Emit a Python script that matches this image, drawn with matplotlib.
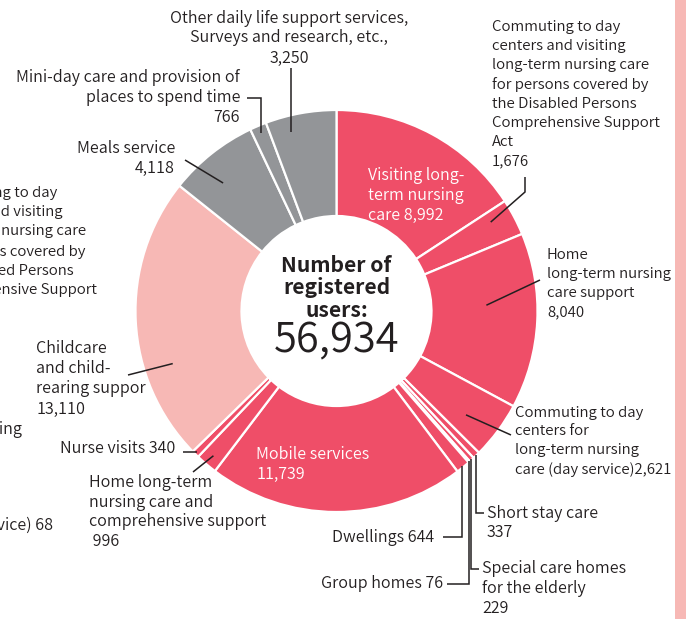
import matplotlib
matplotlib.use('Agg')
import matplotlib.pyplot as plt
from matplotlib.patches import Rectangle
import numpy as np

plt.rcParams['font.family'] = ['Noto Sans CJK JP', 'DejaVu Sans']

# ---------------- data ----------------
categories = [
    "Visiting long-term nursing care",
    "Commuting to day centers and visiting long-term nursing care for persons covered by the Disabled Persons Comprehensive Support Act",
    "Home long-term nursing care support",
    "Commuting to day centers for long-term nursing care (day service)",
    "Short stay care",
    "Special care homes for the elderly",
    "Group homes",
    "Dwellings",
    "Mobile services",
    "Home long-term nursing care and comprehensive support",
    "Nurse visits",
    "Childcare and child-rearing support",
    "Meals service",
    "Mini-day care and provision of places to spend time",
    "Other daily life support services, Surveys and research, etc.",
]
values = [8992, 1676, 8040, 2621, 337, 229, 76, 644, 11739, 996, 340, 13110, 4118, 766, 3250]
groups = ["care"] * 11 + ["child"] + ["life"] * 3

label_texts = [
    "Visiting long-\nterm nursing\ncare {v}",
    "Commuting to day\ncenters and visiting\nlong-term nursing care\nfor persons covered by\nthe Disabled Persons\nComprehensive Support\nAct\n{v}",
    "Home\nlong-term nursing\ncare support\n{v}",
    "Commuting to day\ncenters for\nlong-term nursing\ncare (day service){v}",
    "Short stay care\n{v}",
    "Special care homes\nfor the elderly\n{v}",
    "Group homes {v}",
    "Dwellings {v}",
    "Mobile services\n{v}",
    "Home long-term\nnursing care and\ncomprehensive support\n {v}",
    "Nurse visits {v}",
    "Childcare\nand child-\nrearing suppor\n{v}",
    "Meals service\n{v}",
    "Mini-day care and provision of\nplaces to spend time\n{v}",
    "Other daily life support services,\nSurveys and research, etc.,\n{v}",
]
center_title = "Number of\nregistered\nusers:"
total_users = sum(values)

# ---------------- styles / layout ----------------
group_colors = {"care": "#EF4E68", "child": "#F7B8B5", "life": "#939598"}
TXT = "#231F20"
W, H = 686, 619
CX, CY_PIX, R_OUT, R_IN = 336.5, 311, 201, 95

fig = plt.figure(figsize=(W / 100, H / 100), dpi=100)
ax = fig.add_axes([0, 0, 1, 1])


def py(y):
    return H - y


CY = py(CY_PIX)
colors = [group_colors[g] for g in groups]
ax.pie(values, colors=colors, startangle=90, counterclock=False,
       center=(CX, CY), radius=R_OUT, frame=True,
       wedgeprops=dict(width=R_OUT - R_IN, edgecolor="white", linewidth=1.6))
ax.set_xlim(0, W)
ax.set_ylim(0, H)
ax.set_aspect("auto")
ax.axis("off")

total = float(sum(values))
cum = np.concatenate([[0], np.cumsum(values)])


def anchor(i, frac=0.5, r=190):
    a = (cum[i] + frac * values[i]) / total * 360.0
    th = np.deg2rad(90 - a)
    return CX + r * np.cos(th), CY + r * np.sin(th)


FS = 11.6
FS_SMALL = 10.8
LS = 1.23
LS_SMALL = 1.45
WEIGHT = 350


def label(i, x, y, ha, color=TXT, ma=None, small=False):
    fs = FS_SMALL if small else FS
    ls = LS_SMALL if small else LS
    ax.text(x, py(y), label_texts[i].format(v=f"{values[i]:,}"), ha=ha, va="center",
            fontsize=fs, color=color, linespacing=ls, multialignment=ma or ha,
            fontweight=WEIGHT)


def line(pts):
    xs = [p[0] for p in pts]
    ys = [p[1] for p in pts]
    ax.plot(xs, ys, color=TXT, lw=1.1, solid_capstyle="butt", solid_joinstyle="miter")


# 0 Visiting (inside, white)
label(0, 368, 195, "left", color="white")
# 1 Commuting disabled
label(1, 492, 94, "left", small=True)
a = anchor(1, 0.3, 178)
line([(525, py(177)), (525, py(192)), a])
# 2 Home support
label(2, 547, 283.5, "left", small=True)
a = anchor(2, 0.40, 150)
line([a, (540, py(280))])
# 3 Day service
label(3, 515, 441.5, "left", small=True)
a = anchor(3, 0.63, 166)
line([a, (511, py(435))])
# 4 Short stay
a = anchor(4, 0.5, 200)
tx = max(480, a[0] + 11)
label(4, tx, 523, "left")
line([a, (a[0], py(513)), (tx - 3, py(513))])
# 5 Special care homes
a = anchor(5, 0.5, 200)
tx = max(480, a[0] + 11)
label(5, tx, 588.5, "left")
line([a, (a[0], py(569)), (tx - 3, py(569))])
# 6 Group homes
a = anchor(6, 0.5, 200)
label(6, 443, 584, "right")
line([(447, py(584)), (a[0], py(584)), a])
# 7 Dwellings
a = anchor(7, 0.5, 200)
label(7, 434, 537, "right")
line([(443, py(537)), (a[0], py(537)), a])
# 8 Mobile (inside, white)
label(8, 256, 464, "left", color="white")
# 9 Home comprehensive
label(9, 89, 512, "left")
a = anchor(9, 0.5, 190)
line([(193, py(472)), a])
# 10 Nurse visits
a = anchor(10, 0.5, 198)
label(10, a[0] - 22, H - a[1] - 3, "right")
line([(a[0] - 14, a[1]), a])
# 11 Childcare
label(11, 36, 378.5, "left")
a = anchor(11, 0.32, 172)
line([(128, py(375)), a])
# 12 Meals
label(12, 175, 158, "right")
a = anchor(12, 0.38, 171)
line([(185, py(160)), a])
# 13 Mini-day
label(13, 240, 97.5, "right")
a = anchor(13, 0.5, 193)
line([(247, py(98)), (a[0], py(98)), a])
# 14 Other
label(14, 289, 38, "center")
a = anchor(14, 0.3, 185)
line([(a[0], py(68)), a])

# labels cut off at the left edge of the original graphic
ax.text(-71, py(241.5),
        "Commuting to day\ncenters and visiting\nlong-term nursing care\nfor persons covered by\nthe Disabled Persons\nComprehensive Support",
        ha="left", va="center", fontsize=FS_SMALL, color=TXT, linespacing=LS_SMALL,
        fontweight=WEIGHT)
ax.text(22, py(430), "Home nursing", ha="right", va="center", fontsize=FS, color=TXT,
        fontweight=WEIGHT)
ax.text(53, py(525), "(day service) 68", ha="right", va="center", fontsize=FS, color=TXT,
        fontweight=WEIGHT)

# centre text
ax.text(CX, py(288), center_title, ha="center", va="center", fontsize=15.2,
        fontweight="bold", color=TXT, linespacing=1.1)
ax.text(CX, py(341), f"{total_users:,}", ha="center", va="center", fontsize=30,
        color=TXT, fontweight=WEIGHT)

# right decorative band
ax.add_patch(Rectangle((675, 0), 11, H, color="#F7B8B5", lw=0))

fig.savefig("out.png", dpi=100)
